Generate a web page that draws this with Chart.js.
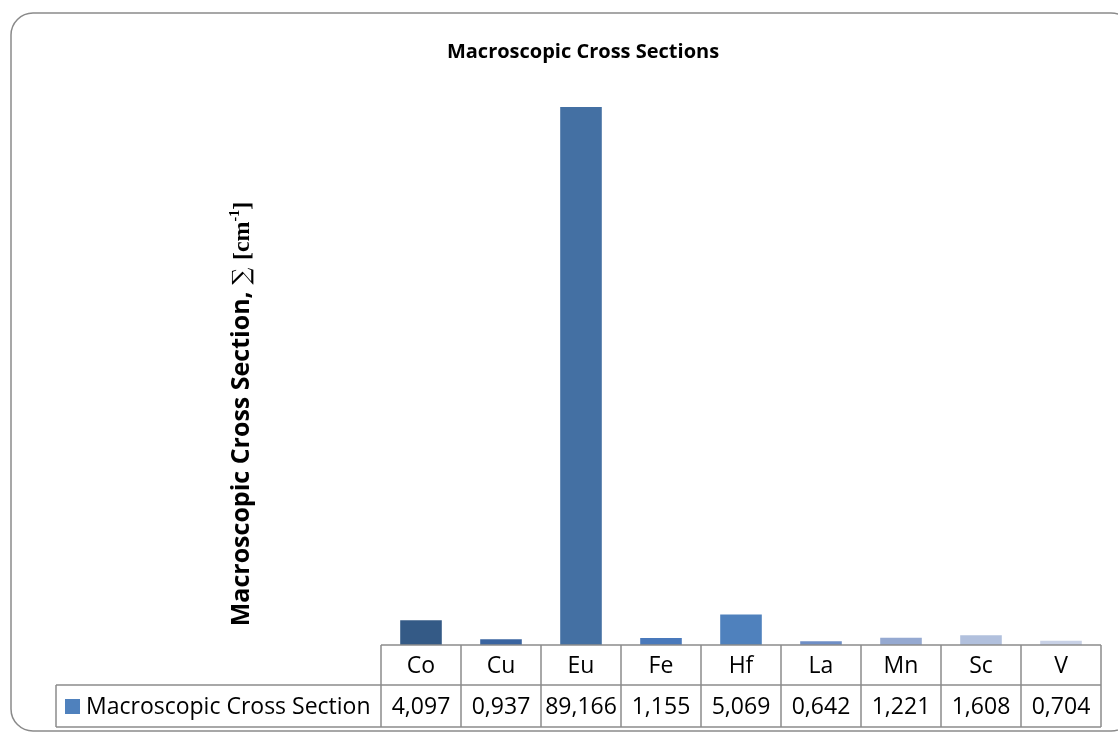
<!DOCTYPE html>
<html>
<head>
<meta charset="utf-8">
<script src="https://cdn.jsdelivr.net/npm/chart.js@4.4.1/dist/chart.umd.min.js"></script>
<style>
  html, body { margin: 0; padding: 0; background: #fff; }
  #wrap { width: 1118px; height: 733px; position: relative; }
</style>
</head>
<body>
<div id="wrap"><canvas id="chart"></canvas></div>
<script>
// chart data
const categories = ['Co', 'Cu', 'Eu', 'Fe', 'Hf', 'La', 'Mn', 'Sc', 'V'];
const values = [4.097, 0.937, 89.166, 1.155, 5.069, 0.642, 1.221, 1.608, 0.704];
const barColors = ['#345A86', '#3A64A0', '#4470A3', '#4979BB', '#4F81BD', '#6E8EC6', '#95A9D1', '#B1C0DD', '#C8D1E6'];
const seriesName = 'Macroscopic Cross Section';
const chartTitle = 'Macroscopic Cross Sections';

const FONT = "'Open Sans', sans-serif";
const LINE = '#8c8c8c';

// outer rounded frame + chart title (title is centred on the whole chart, not the plot)
const framePlugin = {
  id: 'frame',
  beforeDraw(chart) {
    const ctx = chart.ctx;
    ctx.save();
    ctx.fillStyle = '#fff';
    ctx.fillRect(0, 0, chart.width, chart.height);
    ctx.strokeStyle = '#8a8a8a';
    ctx.lineWidth = 1.5;
    ctx.beginPath();
    ctx.roundRect(11, 13, 1122, 718, 22);
    ctx.stroke();

    ctx.fillStyle = '#000';
    ctx.font = 'bold 20px ' + FONT;
    ctx.textAlign = 'center';
    ctx.textBaseline = 'middle';
    ctx.fillText(chartTitle, 583, 52);
    ctx.restore();
  }
};

// y axis title with sigma and cm^-1
const yTitlePlugin = {
  id: 'yTitle',
  afterDraw(chart) {
    const ctx = chart.ctx;
    const parts = [
      { t: 'Macroscopic Cross Section, ', f: "bold 25px " + FONT, dy: 0 },
      { t: '\u2211 ', f: "24px 'DejaVu Serif', serif", dy: 0 },
      { t: '[cm', f: "bold 24px 'Liberation Serif', serif", dy: 0 },
      { t: '-1', f: "bold 14px 'Liberation Serif', serif", dy: -10 },
      { t: ']', f: "bold 24px 'Liberation Serif', serif", dy: 0 }
    ];
    let total = 0;
    parts.forEach(p => { ctx.font = p.f; p.w = ctx.measureText(p.t).width; total += p.w; });
    ctx.save();
    ctx.translate(240, 414);
    ctx.rotate(-Math.PI / 2);
    ctx.fillStyle = '#000';
    ctx.textBaseline = 'alphabetic';
    ctx.textAlign = 'left';
    let x = -total / 2;
    parts.forEach(p => {
      ctx.font = p.f;
      ctx.fillText(p.t, x, 9 + p.dy);
      x += p.w;
    });
    ctx.restore();
  }
};

// data table under the plot, aligned to the category scale
const tablePlugin = {
  id: 'dataTable',
  afterDraw(chart) {
    const ctx = chart.ctx;
    const xs = chart.scales.x;
    const area = chart.chartArea;
    const half = (xs.getPixelForValue(1) - xs.getPixelForValue(0)) / 2;
    const left = xs.getPixelForValue(0) - half;
    const right = xs.getPixelForValue(categories.length - 1) + half;
    const top = area.bottom;
    const mid = top + 40;
    const bottom = mid + 42;
    const legLeft = 56;

    ctx.save();
    ctx.strokeStyle = LINE;
    ctx.lineWidth = 1.5;
    ctx.beginPath();
    ctx.moveTo(left, top); ctx.lineTo(right, top);
    ctx.moveTo(legLeft, mid); ctx.lineTo(right, mid);
    ctx.moveTo(legLeft, bottom); ctx.lineTo(right, bottom);
    ctx.moveTo(legLeft, mid); ctx.lineTo(legLeft, bottom);
    ctx.moveTo(left, top); ctx.lineTo(left, bottom);
    categories.forEach((c, i) => {
      const r = xs.getPixelForValue(i) + half;
      ctx.moveTo(r, top); ctx.lineTo(r, bottom);
    });
    ctx.stroke();

    ctx.fillStyle = '#000';
    ctx.font = '23px ' + FONT;
    ctx.textAlign = 'center';
    ctx.textBaseline = 'middle';
    categories.forEach((c, i) => {
      const cx = xs.getPixelForValue(i);
      ctx.fillText(c, cx, (top + mid) / 2 + 1);
      ctx.fillText(values[i].toFixed(3).replace('.', ','), cx, (mid + bottom) / 2 + 1);
    });

    // legend key + series name
    ctx.fillStyle = '#4F81BD';
    ctx.fillRect(65, 699, 15, 15);
    ctx.fillStyle = '#000';
    ctx.textAlign = 'left';
    ctx.fillText(seriesName, 86, (mid + bottom) / 2 + 1);
    ctx.restore();
  }
};

new Chart(document.getElementById('chart'), {
  type: 'bar',
  data: {
    labels: categories,
    datasets: [{
      label: seriesName,
      data: values,
      backgroundColor: barColors,
      borderWidth: 0,
      categoryPercentage: 1,
      barPercentage: 0.52
    }]
  },
  options: {
    responsive: true,
    maintainAspectRatio: false,
    animation: false,
    layout: { padding: { left: 381, right: 17, bottom: 88, top: 102 } },
    plugins: {
      legend: { display: false },
      tooltip: { enabled: false },
      title: { display: false }
    },
    scales: {
      x: { display: false, offset: true },
      y: { display: false, min: 0, max: 90 }
    }
  },
  plugins: [framePlugin, yTitlePlugin, tablePlugin]
});
</script>
</body>
</html>
